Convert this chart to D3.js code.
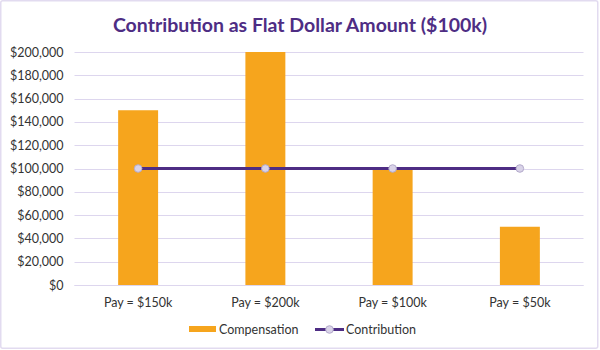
<!DOCTYPE html>
<html><head><meta charset="utf-8">
<script src="https://cdn.jsdelivr.net/npm/d3@7"></script>
<style>body{margin:0;background:#fff;}svg{display:block;font-family:Lato,"Open Sans",sans-serif;}</style>
</head><body>
<svg id="chart" width="600" height="350"></svg>
<script>
const categories = ["Pay = $150k", "Pay = $200k", "Pay = $100k", "Pay = $50k"];
const compensation = [150000, 200000, 100000, 50000];
const contribution = [100000, 100000, 100000, 100000];
const yTicks = [0, 20000, 40000, 60000, 80000, 100000, 120000, 140000, 160000, 180000, 200000];
const seriesNames = ["Compensation", "Contribution"];
const title = "Contribution as Flat Dollar Amount ($100k)";

const svg = d3.select("#chart");
const W = 600, H = 350;
const m = {left: 74.5, right: 16.5, top: 52, bottom: 65};

svg.append("rect").attr("x", 0.75).attr("y", 0.75).attr("width", 597).attr("height", 347.5)
  .attr("rx", 2).attr("fill", "#fff").attr("stroke", "#e2dbf0").attr("stroke-width", 1.5);

svg.append("text").attr("x", 300).attr("y", 32).attr("text-anchor", "middle")
  .attr("font-size", 19.5).attr("font-weight", "bold").attr("fill", "#4e2d84").text(title);

const x = d3.scaleBand().domain(categories).range([m.left, W - m.right]).padding(0);
const y = d3.scaleLinear().domain([0, 200000]).range([H - m.bottom, m.top]);

// gridlines
svg.append("g").selectAll("line").data(yTicks).join("line")
  .attr("x1", m.left).attr("x2", W - m.right)
  .attr("y1", d => Math.round(y(d)) + 0.5).attr("y2", d => Math.round(y(d)) + 0.5)
  .attr("stroke", "#ddd6ee").attr("stroke-width", 1);

// y axis labels
const yAxis = d3.axisLeft(y).tickValues(yTicks).tickSize(0).tickPadding(0)
  .tickFormat(d => "$" + d3.format(",")(d));
const gy = svg.append("g").attr("transform", `translate(${m.left - 11},0)`).call(yAxis);
gy.select(".domain").remove();
gy.selectAll("text").attr("font-size", 12.5).attr("fill", "#333").attr("font-family", "Lato, sans-serif");

// bars
const barW = x.bandwidth() * 0.314;
svg.append("g").selectAll("rect").data(compensation).join("rect")
  .attr("x", (d, i) => x(categories[i]) + x.bandwidth() / 2 - barW / 2)
  .attr("width", barW)
  .attr("y", d => y(d)).attr("height", d => y(0) - y(d))
  .attr("fill", "#f6a51d");

// x axis baseline
svg.append("line").attr("x1", m.left).attr("x2", W - m.right)
  .attr("y1", Math.round(y(0)) + 0.5).attr("y2", Math.round(y(0)) + 0.5)
  .attr("stroke", "#ddd6ee");

const xAxis = d3.axisBottom(x).tickSize(0).tickPadding(0);
const gx = svg.append("g").attr("transform", `translate(0,${y(0) + 22})`).call(xAxis);
gx.select(".domain").remove();
gx.selectAll("text").attr("font-size", 12.5).attr("fill", "#333").attr("font-family", "Lato, sans-serif").attr("dy", "0");

// line
const line = d3.line().x((d, i) => x(categories[i]) + x.bandwidth() / 2).y(d => y(d));
svg.append("path").datum(contribution).attr("d", line)
  .attr("fill", "none").attr("stroke", "#4e2d84").attr("stroke-width", 3);
svg.append("g").selectAll("circle").data(contribution).join("circle")
  .attr("cx", (d, i) => x(categories[i]) + x.bandwidth() / 2).attr("cy", d => y(d))
  .attr("r", 3.8).attr("fill", "#d9d3e8").attr("stroke", "#b3aacb").attr("stroke-width", 1);

// legend
const lg = svg.append("g");
lg.append("rect").attr("x", 189).attr("y", 326).attr("width", 27).attr("height", 6).attr("fill", "#f6a51d");
lg.append("text").attr("x", 219).attr("y", 333.5).attr("font-size", 12.5).attr("fill", "#333").text(seriesNames[0]);
lg.append("line").attr("x1", 315).attr("x2", 344).attr("y1", 329.5).attr("y2", 329.5)
  .attr("stroke", "#4e2d84").attr("stroke-width", 3);
lg.append("circle").attr("cx", 329.5).attr("cy", 329.5).attr("r", 3.8)
  .attr("fill", "#d9d3e8").attr("stroke", "#b3aacb");
lg.append("text").attr("x", 346).attr("y", 333.5).attr("font-size", 12.5).attr("fill", "#333").text(seriesNames[1]);
</script>
</body></html>
